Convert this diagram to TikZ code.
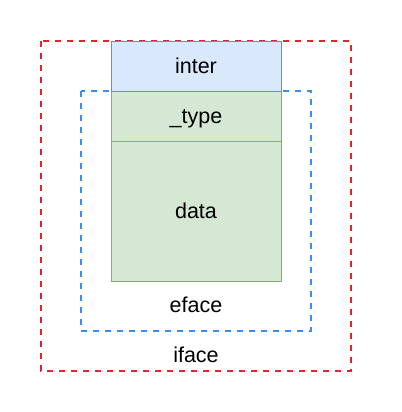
\documentclass[tikz,border=0pt]{standalone}
\usepackage{fontspec}
\setmainfont{Liberation Sans}
\definecolor{ifred}{HTML}{E3242B}
\definecolor{efblue}{HTML}{3A8EF0}
\definecolor{blfill}{HTML}{DAE8FC}
\definecolor{blline}{HTML}{6C8EBF}
\definecolor{grfill}{HTML}{D5E8D4}
\definecolor{grline}{HTML}{82B366}
\begin{document}
\begin{tikzpicture}[x=1bp,y=-1bp,
  lbl/.style={font=\fontsize{21.5bp}{24bp}\selectfont, inner sep=0pt, anchor=base},
  dashbox/.style={line width=2bp, dash pattern=on 6bp off 6bp},
  cell/.style={line width=0.8bp}]
\useasboundingbox (0,0) rectangle (402,412);
% outer iface
\draw[dashbox, ifred] (41,41) rectangle (351,371);
% eface
\draw[dashbox, efblue] (81,91) rectangle (311,331);
% cells
\draw[cell, draw=grline, fill=grfill] (111,91) rectangle (281,281);
\draw[cell, draw=grline] (111,141) -- (281,141);
\draw[cell, draw=blline, fill=blfill] (111,41) rectangle (281,91);
\node[lbl] (inter) at (196,73) {inter};
\node[lbl] (type) at (196,123) {\_type};
\node[lbl] (data) at (196,218.5) {data};
\node[lbl] (eface) at (196,312) {eface};
\node[lbl] (iface) at (196,362.5) {iface};
\end{tikzpicture}
\end{document}
